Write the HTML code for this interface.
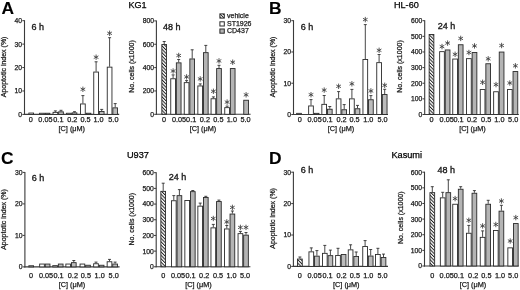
<!DOCTYPE html>
<html><head><meta charset="utf-8"><style>
html,body{margin:0;padding:0;background:#fff;}
body{width:520px;height:290px;overflow:hidden;}
svg{display:block;font-family:"Liberation Sans", sans-serif;will-change:transform;}
</style></head><body>
<svg width="520" height="290" viewBox="0 0 520 290">
<defs>
<pattern id="hatch" patternUnits="userSpaceOnUse" width="2.4" height="2.4" patternTransform="rotate(-45)">
<rect width="2.4" height="2.4" fill="#fff"/><rect x="0" y="0" width="1.0" height="2.4" fill="#222"/>
</pattern>
<pattern id="hatch2" patternUnits="userSpaceOnUse" width="2.2" height="2.2" patternTransform="rotate(-45)">
<rect width="2.2" height="2.2" fill="#fff"/><rect x="0" y="0" width="0.9" height="2.2" fill="#222"/>
</pattern>
</defs>
<rect width="520" height="290" fill="#fff"/>
<line x1="24.5" y1="20.2" x2="24.5" y2="114.9" stroke="#3a3a3a" stroke-width="1.1"/>
<line x1="24" y1="114.4" x2="119.2" y2="114.4" stroke="#3a3a3a" stroke-width="1.1"/>
<line x1="22.3" y1="114.4" x2="24.5" y2="114.4" stroke="#3a3a3a" stroke-width="1"/>
<text x="22.1" y="116.8" font-size="6.8" text-anchor="end" font-weight="normal" fill="#1a1a1a" stroke="#1a1a1a" stroke-width="0.25">0</text>
<line x1="22.3" y1="90.98" x2="24.5" y2="90.98" stroke="#3a3a3a" stroke-width="1"/>
<text x="22.1" y="93.38" font-size="6.8" text-anchor="end" font-weight="normal" fill="#1a1a1a" stroke="#1a1a1a" stroke-width="0.25">10</text>
<line x1="22.3" y1="67.55" x2="24.5" y2="67.55" stroke="#3a3a3a" stroke-width="1"/>
<text x="22.1" y="69.95" font-size="6.8" text-anchor="end" font-weight="normal" fill="#1a1a1a" stroke="#1a1a1a" stroke-width="0.25">20</text>
<line x1="22.3" y1="44.12" x2="24.5" y2="44.12" stroke="#3a3a3a" stroke-width="1"/>
<text x="22.1" y="46.52" font-size="6.8" text-anchor="end" font-weight="normal" fill="#1a1a1a" stroke="#1a1a1a" stroke-width="0.25">30</text>
<line x1="22.3" y1="20.7" x2="24.5" y2="20.7" stroke="#3a3a3a" stroke-width="1"/>
<text x="22.1" y="23.1" font-size="6.8" text-anchor="end" font-weight="normal" fill="#1a1a1a" stroke="#1a1a1a" stroke-width="0.25">40</text>
<rect x="28.85" y="113.05" width="4.7" height="1.35" fill="#fff" stroke="#2a2a2a" stroke-width="0.9"/>
<rect x="39.55" y="113.25" width="4.7" height="1.15" fill="#fff" stroke="#2a2a2a" stroke-width="0.9"/>
<rect x="45.15" y="113.25" width="4.7" height="1.15" fill="#bcbcbc" stroke="#2a2a2a" stroke-width="0.9"/>
<rect x="53.05" y="112.35" width="4.7" height="2.05" fill="#fff" stroke="#2a2a2a" stroke-width="0.9"/>
<line x1="55.4" y1="111.9" x2="55.4" y2="110.8" stroke="#333" stroke-width="0.9"/>
<line x1="53.9" y1="110.9" x2="56.9" y2="110.9" stroke="#333" stroke-width="0.9"/>
<rect x="58.65" y="111.85" width="4.7" height="2.55" fill="#bcbcbc" stroke="#2a2a2a" stroke-width="0.9"/>
<line x1="61" y1="111.4" x2="61" y2="110.2" stroke="#333" stroke-width="0.9"/>
<line x1="59.5" y1="110.3" x2="62.5" y2="110.3" stroke="#333" stroke-width="0.9"/>
<rect x="66.55" y="113.25" width="4.7" height="1.15" fill="#fff" stroke="#2a2a2a" stroke-width="0.9"/>
<rect x="72.15" y="112.85" width="4.7" height="1.55" fill="#bcbcbc" stroke="#2a2a2a" stroke-width="0.9"/>
<line x1="74.5" y1="112.4" x2="74.5" y2="111.6" stroke="#333" stroke-width="0.9"/>
<line x1="73" y1="111.7" x2="76" y2="111.7" stroke="#333" stroke-width="0.9"/>
<rect x="80.55" y="103.95" width="4.7" height="10.45" fill="#fff" stroke="#2a2a2a" stroke-width="0.9"/>
<line x1="82.9" y1="103.5" x2="82.9" y2="95.5" stroke="#333" stroke-width="0.9"/>
<line x1="81.4" y1="95.6" x2="84.4" y2="95.6" stroke="#333" stroke-width="0.9"/>
<rect x="86.15" y="113.25" width="4.7" height="1.15" fill="#bcbcbc" stroke="#2a2a2a" stroke-width="0.9"/>
<path d="M82.9 86.6L82.9 92M85.24 87.95L80.56 90.65M85.24 90.65L80.56 87.95" stroke="#3c3c3c" stroke-width="0.85" fill="none"/>
<rect x="93.75" y="72.05" width="4.7" height="42.35" fill="#fff" stroke="#2a2a2a" stroke-width="0.9"/>
<line x1="96.1" y1="71.6" x2="96.1" y2="61.7" stroke="#333" stroke-width="0.9"/>
<line x1="94.6" y1="61.8" x2="97.6" y2="61.8" stroke="#333" stroke-width="0.9"/>
<rect x="99.35" y="111.45" width="4.7" height="2.95" fill="#bcbcbc" stroke="#2a2a2a" stroke-width="0.9"/>
<line x1="101.7" y1="111" x2="101.7" y2="109.3" stroke="#333" stroke-width="0.9"/>
<line x1="100.2" y1="109.4" x2="103.2" y2="109.4" stroke="#333" stroke-width="0.9"/>
<path d="M96.1 54.5L96.1 59.9M98.44 55.85L93.76 58.55M98.44 58.55L93.76 55.85" stroke="#3c3c3c" stroke-width="0.85" fill="none"/>
<rect x="107.25" y="67.15" width="4.7" height="47.25" fill="#fff" stroke="#2a2a2a" stroke-width="0.9"/>
<line x1="109.6" y1="66.7" x2="109.6" y2="37.6" stroke="#333" stroke-width="0.9"/>
<line x1="108.1" y1="37.7" x2="111.1" y2="37.7" stroke="#333" stroke-width="0.9"/>
<rect x="112.85" y="107.85" width="4.7" height="6.55" fill="#bcbcbc" stroke="#2a2a2a" stroke-width="0.9"/>
<line x1="115.2" y1="107.4" x2="115.2" y2="103.5" stroke="#333" stroke-width="0.9"/>
<line x1="113.7" y1="103.6" x2="116.7" y2="103.6" stroke="#333" stroke-width="0.9"/>
<path d="M109.6 30.6L109.6 36M111.94 31.95L107.26 34.65M111.94 34.65L107.26 31.95" stroke="#3c3c3c" stroke-width="0.85" fill="none"/>
<text x="30.8" y="122" font-size="7.3" text-anchor="middle" font-weight="normal" fill="#1a1a1a" stroke="#1a1a1a" stroke-width="0.25">0</text>
<text x="45.45" y="122" font-size="7.3" text-anchor="middle" font-weight="normal" fill="#1a1a1a" stroke="#1a1a1a" stroke-width="0.25">0.05</text>
<text x="58.4" y="122" font-size="7.3" text-anchor="middle" font-weight="normal" fill="#1a1a1a" stroke="#1a1a1a" stroke-width="0.25">0.1</text>
<text x="72.3" y="122" font-size="7.3" text-anchor="middle" font-weight="normal" fill="#1a1a1a" stroke="#1a1a1a" stroke-width="0.25">0.2</text>
<text x="85.6" y="122" font-size="7.3" text-anchor="middle" font-weight="normal" fill="#1a1a1a" stroke="#1a1a1a" stroke-width="0.25">0.5</text>
<text x="98.6" y="122" font-size="7.3" text-anchor="middle" font-weight="normal" fill="#1a1a1a" stroke="#1a1a1a" stroke-width="0.25">1.0</text>
<text x="113.4" y="122" font-size="7.3" text-anchor="middle" font-weight="normal" fill="#1a1a1a" stroke="#1a1a1a" stroke-width="0.25">5.0</text>
<text x="71.8" y="131" font-size="7.3" text-anchor="middle" font-weight="normal" fill="#1a1a1a" stroke="#1a1a1a" stroke-width="0.25">[C] (&#956;M)</text>
<text x="0" y="0" font-size="7" text-anchor="middle" fill="#1a1a1a" stroke="#1a1a1a" stroke-width="0.25" transform="translate(5.9 66.9) rotate(-90)">Apoptotic index (%)</text>
<text x="31.4" y="29.5" font-size="9" text-anchor="start" font-weight="normal" fill="#1a1a1a" stroke="#1a1a1a" stroke-width="0.35">6 h</text>
<line x1="156.4" y1="20.4" x2="156.4" y2="114.8" stroke="#3a3a3a" stroke-width="1.1"/>
<line x1="155.9" y1="114.3" x2="250.6" y2="114.3" stroke="#3a3a3a" stroke-width="1.1"/>
<line x1="154.2" y1="114.3" x2="156.4" y2="114.3" stroke="#3a3a3a" stroke-width="1"/>
<text x="154" y="116.7" font-size="6.8" text-anchor="end" font-weight="normal" fill="#1a1a1a" stroke="#1a1a1a" stroke-width="0.25">0</text>
<line x1="154.2" y1="90.95" x2="156.4" y2="90.95" stroke="#3a3a3a" stroke-width="1"/>
<text x="154" y="93.35" font-size="6.8" text-anchor="end" font-weight="normal" fill="#1a1a1a" stroke="#1a1a1a" stroke-width="0.25">200</text>
<line x1="154.2" y1="67.6" x2="156.4" y2="67.6" stroke="#3a3a3a" stroke-width="1"/>
<text x="154" y="70" font-size="6.8" text-anchor="end" font-weight="normal" fill="#1a1a1a" stroke="#1a1a1a" stroke-width="0.25">400</text>
<line x1="154.2" y1="44.25" x2="156.4" y2="44.25" stroke="#3a3a3a" stroke-width="1"/>
<text x="154" y="46.65" font-size="6.8" text-anchor="end" font-weight="normal" fill="#1a1a1a" stroke="#1a1a1a" stroke-width="0.25">600</text>
<line x1="154.2" y1="20.9" x2="156.4" y2="20.9" stroke="#3a3a3a" stroke-width="1"/>
<text x="154" y="23.3" font-size="6.8" text-anchor="end" font-weight="normal" fill="#1a1a1a" stroke="#1a1a1a" stroke-width="0.25">800</text>
<rect x="161.85" y="44.55" width="4.7" height="69.75" fill="url(#hatch)" stroke="#2a2a2a" stroke-width="0.9"/>
<line x1="164.2" y1="44.1" x2="164.2" y2="41.4" stroke="#333" stroke-width="0.9"/>
<line x1="162.7" y1="41.5" x2="165.7" y2="41.5" stroke="#333" stroke-width="0.9"/>
<rect x="170.75" y="78.75" width="4.7" height="35.55" fill="#fff" stroke="#2a2a2a" stroke-width="0.9"/>
<line x1="173.1" y1="78.3" x2="173.1" y2="74.8" stroke="#333" stroke-width="0.9"/>
<line x1="171.6" y1="74.9" x2="174.6" y2="74.9" stroke="#333" stroke-width="0.9"/>
<rect x="176.35" y="62.85" width="4.7" height="51.45" fill="#b4b4b4" stroke="#2a2a2a" stroke-width="0.9"/>
<line x1="178.7" y1="62.4" x2="178.7" y2="59.4" stroke="#333" stroke-width="0.9"/>
<line x1="177.2" y1="59.5" x2="180.2" y2="59.5" stroke="#333" stroke-width="0.9"/>
<path d="M173.1 68.3L173.1 73.7M175.44 69.65L170.76 72.35M175.44 72.35L170.76 69.65" stroke="#3c3c3c" stroke-width="0.85" fill="none"/>
<path d="M178.7 52.8L178.7 58.2M181.04 54.15L176.36 56.85M181.04 56.85L176.36 54.15" stroke="#3c3c3c" stroke-width="0.85" fill="none"/>
<rect x="184.25" y="82.65" width="4.7" height="31.65" fill="#fff" stroke="#2a2a2a" stroke-width="0.9"/>
<line x1="186.6" y1="82.2" x2="186.6" y2="80.5" stroke="#333" stroke-width="0.9"/>
<line x1="185.1" y1="80.6" x2="188.1" y2="80.6" stroke="#333" stroke-width="0.9"/>
<rect x="189.85" y="58.95" width="4.7" height="55.35" fill="#b4b4b4" stroke="#2a2a2a" stroke-width="0.9"/>
<line x1="192.2" y1="58.5" x2="192.2" y2="49.7" stroke="#333" stroke-width="0.9"/>
<line x1="190.7" y1="49.8" x2="193.7" y2="49.8" stroke="#333" stroke-width="0.9"/>
<path d="M186.6 74.2L186.6 79.6M188.94 75.55L184.26 78.25M188.94 78.25L184.26 75.55" stroke="#3c3c3c" stroke-width="0.85" fill="none"/>
<rect x="197.85" y="85.95" width="4.7" height="28.35" fill="#fff" stroke="#2a2a2a" stroke-width="0.9"/>
<line x1="200.2" y1="85.5" x2="200.2" y2="83.8" stroke="#333" stroke-width="0.9"/>
<line x1="198.7" y1="83.9" x2="201.7" y2="83.9" stroke="#333" stroke-width="0.9"/>
<rect x="203.45" y="52.65" width="4.7" height="61.65" fill="#b4b4b4" stroke="#2a2a2a" stroke-width="0.9"/>
<line x1="205.8" y1="52.2" x2="205.8" y2="45.3" stroke="#333" stroke-width="0.9"/>
<line x1="204.3" y1="45.4" x2="207.3" y2="45.4" stroke="#333" stroke-width="0.9"/>
<path d="M200.2 76.2L200.2 81.6M202.54 77.55L197.86 80.25M202.54 80.25L197.86 77.55" stroke="#3c3c3c" stroke-width="0.85" fill="none"/>
<rect x="211.05" y="98.75" width="4.7" height="15.55" fill="#fff" stroke="#2a2a2a" stroke-width="0.9"/>
<line x1="213.4" y1="98.3" x2="213.4" y2="96.8" stroke="#333" stroke-width="0.9"/>
<line x1="211.9" y1="96.9" x2="214.9" y2="96.9" stroke="#333" stroke-width="0.9"/>
<rect x="216.65" y="68.55" width="4.7" height="45.75" fill="#b4b4b4" stroke="#2a2a2a" stroke-width="0.9"/>
<line x1="219" y1="68.1" x2="219" y2="65.2" stroke="#333" stroke-width="0.9"/>
<line x1="217.5" y1="65.3" x2="220.5" y2="65.3" stroke="#333" stroke-width="0.9"/>
<path d="M213.4 88.6L213.4 94M215.74 89.95L211.06 92.65M215.74 92.65L211.06 89.95" stroke="#3c3c3c" stroke-width="0.85" fill="none"/>
<path d="M219 58.2L219 63.6M221.34 59.55L216.66 62.25M221.34 62.25L216.66 59.55" stroke="#3c3c3c" stroke-width="0.85" fill="none"/>
<rect x="224.75" y="107.65" width="4.7" height="6.65" fill="#fff" stroke="#2a2a2a" stroke-width="0.9"/>
<line x1="227.1" y1="107.2" x2="227.1" y2="106" stroke="#333" stroke-width="0.9"/>
<line x1="225.6" y1="106.1" x2="228.6" y2="106.1" stroke="#333" stroke-width="0.9"/>
<rect x="230.35" y="68.55" width="4.7" height="45.75" fill="#b4b4b4" stroke="#2a2a2a" stroke-width="0.9"/>
<path d="M227.1 99.4L227.1 104.8M229.44 100.75L224.76 103.45M229.44 103.45L224.76 100.75" stroke="#3c3c3c" stroke-width="0.85" fill="none"/>
<path d="M232.7 59.5L232.7 64.9M235.04 60.85L230.36 63.55M235.04 63.55L230.36 60.85" stroke="#3c3c3c" stroke-width="0.85" fill="none"/>
<rect x="243.75" y="100.25" width="4.7" height="14.05" fill="#b4b4b4" stroke="#2a2a2a" stroke-width="0.9"/>
<path d="M246.1 92.1L246.1 97.5M248.44 93.45L243.76 96.15M248.44 96.15L243.76 93.45" stroke="#3c3c3c" stroke-width="0.85" fill="none"/>
<text x="164" y="122" font-size="7.3" text-anchor="middle" font-weight="normal" fill="#1a1a1a" stroke="#1a1a1a" stroke-width="0.25">0</text>
<text x="179" y="122" font-size="7.3" text-anchor="middle" font-weight="normal" fill="#1a1a1a" stroke="#1a1a1a" stroke-width="0.25">0.05</text>
<text x="191.2" y="122" font-size="7.3" text-anchor="middle" font-weight="normal" fill="#1a1a1a" stroke="#1a1a1a" stroke-width="0.25">0.1</text>
<text x="204.9" y="122" font-size="7.3" text-anchor="middle" font-weight="normal" fill="#1a1a1a" stroke="#1a1a1a" stroke-width="0.25">0.2</text>
<text x="218.4" y="122" font-size="7.3" text-anchor="middle" font-weight="normal" fill="#1a1a1a" stroke="#1a1a1a" stroke-width="0.25">0.5</text>
<text x="231.9" y="122" font-size="7.3" text-anchor="middle" font-weight="normal" fill="#1a1a1a" stroke="#1a1a1a" stroke-width="0.25">1.0</text>
<text x="245.6" y="122" font-size="7.3" text-anchor="middle" font-weight="normal" fill="#1a1a1a" stroke="#1a1a1a" stroke-width="0.25">5.0</text>
<text x="203" y="131" font-size="7.3" text-anchor="middle" font-weight="normal" fill="#1a1a1a" stroke="#1a1a1a" stroke-width="0.25">[C] (&#956;M)</text>
<text x="0" y="0" font-size="7" text-anchor="middle" fill="#1a1a1a" stroke="#1a1a1a" stroke-width="0.25" transform="translate(133.7 66.5) rotate(-90)">No. cells (x1000)</text>
<text x="163.1" y="29.5" font-size="9" text-anchor="start" font-weight="normal" fill="#1a1a1a" stroke="#1a1a1a" stroke-width="0.35">48 h</text>
<line x1="293.5" y1="20.2" x2="293.5" y2="115" stroke="#3a3a3a" stroke-width="1.1"/>
<line x1="293" y1="114.5" x2="388" y2="114.5" stroke="#3a3a3a" stroke-width="1.1"/>
<line x1="291.3" y1="114.5" x2="293.5" y2="114.5" stroke="#3a3a3a" stroke-width="1"/>
<text x="291.1" y="116.9" font-size="6.8" text-anchor="end" font-weight="normal" fill="#1a1a1a" stroke="#1a1a1a" stroke-width="0.25">0</text>
<line x1="291.3" y1="83.23" x2="293.5" y2="83.23" stroke="#3a3a3a" stroke-width="1"/>
<text x="291.1" y="85.63" font-size="6.8" text-anchor="end" font-weight="normal" fill="#1a1a1a" stroke="#1a1a1a" stroke-width="0.25">10</text>
<line x1="291.3" y1="51.97" x2="293.5" y2="51.97" stroke="#3a3a3a" stroke-width="1"/>
<text x="291.1" y="54.37" font-size="6.8" text-anchor="end" font-weight="normal" fill="#1a1a1a" stroke="#1a1a1a" stroke-width="0.25">20</text>
<line x1="291.3" y1="20.7" x2="293.5" y2="20.7" stroke="#3a3a3a" stroke-width="1"/>
<text x="291.1" y="23.1" font-size="6.8" text-anchor="end" font-weight="normal" fill="#1a1a1a" stroke="#1a1a1a" stroke-width="0.25">30</text>
<rect x="296.65" y="113.35" width="4.7" height="1.15" fill="#fff" stroke="#2a2a2a" stroke-width="0.9"/>
<rect x="308.65" y="105.95" width="4.7" height="8.55" fill="#fff" stroke="#2a2a2a" stroke-width="0.9"/>
<line x1="311" y1="105.5" x2="311" y2="99.5" stroke="#333" stroke-width="0.9"/>
<line x1="309.5" y1="99.6" x2="312.5" y2="99.6" stroke="#333" stroke-width="0.9"/>
<rect x="314.25" y="113.35" width="4.7" height="1.15" fill="#bcbcbc" stroke="#2a2a2a" stroke-width="0.9"/>
<path d="M311 92L311 97.4M313.34 93.35L308.66 96.05M313.34 96.05L308.66 93.35" stroke="#3c3c3c" stroke-width="0.85" fill="none"/>
<rect x="321.85" y="104.35" width="4.7" height="10.15" fill="#fff" stroke="#2a2a2a" stroke-width="0.9"/>
<line x1="324.2" y1="103.9" x2="324.2" y2="95.4" stroke="#333" stroke-width="0.9"/>
<line x1="322.7" y1="95.5" x2="325.7" y2="95.5" stroke="#333" stroke-width="0.9"/>
<rect x="327.45" y="109.25" width="4.7" height="5.25" fill="#bcbcbc" stroke="#2a2a2a" stroke-width="0.9"/>
<line x1="329.8" y1="108.8" x2="329.8" y2="106.4" stroke="#333" stroke-width="0.9"/>
<line x1="328.3" y1="106.5" x2="331.3" y2="106.5" stroke="#333" stroke-width="0.9"/>
<path d="M324.2 87.4L324.2 92.8M326.54 88.75L321.86 91.45M326.54 91.45L321.86 88.75" stroke="#3c3c3c" stroke-width="0.85" fill="none"/>
<rect x="336.25" y="98.85" width="4.7" height="15.65" fill="#fff" stroke="#2a2a2a" stroke-width="0.9"/>
<line x1="338.6" y1="98.4" x2="338.6" y2="91.5" stroke="#333" stroke-width="0.9"/>
<line x1="337.1" y1="91.6" x2="340.1" y2="91.6" stroke="#333" stroke-width="0.9"/>
<rect x="341.85" y="109.75" width="4.7" height="4.75" fill="#bcbcbc" stroke="#2a2a2a" stroke-width="0.9"/>
<line x1="344.2" y1="109.3" x2="344.2" y2="104.5" stroke="#333" stroke-width="0.9"/>
<line x1="342.7" y1="104.6" x2="345.7" y2="104.6" stroke="#333" stroke-width="0.9"/>
<path d="M338.6 83.6L338.6 89M340.94 84.95L336.26 87.65M340.94 87.65L336.26 84.95" stroke="#3c3c3c" stroke-width="0.85" fill="none"/>
<rect x="349.55" y="98.85" width="4.7" height="15.65" fill="#fff" stroke="#2a2a2a" stroke-width="0.9"/>
<line x1="351.9" y1="98.4" x2="351.9" y2="89.3" stroke="#333" stroke-width="0.9"/>
<line x1="350.4" y1="89.4" x2="353.4" y2="89.4" stroke="#333" stroke-width="0.9"/>
<rect x="355.15" y="108.75" width="4.7" height="5.75" fill="#bcbcbc" stroke="#2a2a2a" stroke-width="0.9"/>
<line x1="357.5" y1="108.3" x2="357.5" y2="105.3" stroke="#333" stroke-width="0.9"/>
<line x1="356" y1="105.4" x2="359" y2="105.4" stroke="#333" stroke-width="0.9"/>
<path d="M351.9 81.1L351.9 86.5M354.24 82.45L349.56 85.15M354.24 85.15L349.56 82.45" stroke="#3c3c3c" stroke-width="0.85" fill="none"/>
<rect x="362.95" y="59.45" width="4.7" height="55.05" fill="#fff" stroke="#2a2a2a" stroke-width="0.9"/>
<line x1="365.3" y1="59" x2="365.3" y2="24.5" stroke="#333" stroke-width="0.9"/>
<line x1="363.8" y1="24.6" x2="366.8" y2="24.6" stroke="#333" stroke-width="0.9"/>
<rect x="368.55" y="99.75" width="4.7" height="14.75" fill="#bcbcbc" stroke="#2a2a2a" stroke-width="0.9"/>
<line x1="370.9" y1="99.3" x2="370.9" y2="95.5" stroke="#333" stroke-width="0.9"/>
<line x1="369.4" y1="95.6" x2="372.4" y2="95.6" stroke="#333" stroke-width="0.9"/>
<path d="M365.3 16.9L365.3 22.3M367.64 18.25L362.96 20.95M367.64 20.95L362.96 18.25" stroke="#3c3c3c" stroke-width="0.85" fill="none"/>
<path d="M370.9 88.2L370.9 93.6M373.24 89.55L368.56 92.25M373.24 92.25L368.56 89.55" stroke="#3c3c3c" stroke-width="0.85" fill="none"/>
<rect x="376.75" y="62.65" width="4.7" height="51.85" fill="#fff" stroke="#2a2a2a" stroke-width="0.9"/>
<line x1="379.1" y1="62.2" x2="379.1" y2="54.4" stroke="#333" stroke-width="0.9"/>
<line x1="377.6" y1="54.5" x2="380.6" y2="54.5" stroke="#333" stroke-width="0.9"/>
<rect x="382.35" y="94.55" width="4.7" height="19.95" fill="#bcbcbc" stroke="#2a2a2a" stroke-width="0.9"/>
<line x1="384.7" y1="94.1" x2="384.7" y2="89.2" stroke="#333" stroke-width="0.9"/>
<line x1="383.2" y1="89.3" x2="386.2" y2="89.3" stroke="#333" stroke-width="0.9"/>
<path d="M379.1 47.6L379.1 53M381.44 48.95L376.76 51.65M381.44 51.65L376.76 48.95" stroke="#3c3c3c" stroke-width="0.85" fill="none"/>
<path d="M384.7 82.6L384.7 88M387.04 83.95L382.36 86.65M387.04 86.65L382.36 83.95" stroke="#3c3c3c" stroke-width="0.85" fill="none"/>
<text x="299.8" y="121.8" font-size="7.3" text-anchor="middle" font-weight="normal" fill="#1a1a1a" stroke="#1a1a1a" stroke-width="0.25">0</text>
<text x="314.6" y="121.8" font-size="7.3" text-anchor="middle" font-weight="normal" fill="#1a1a1a" stroke="#1a1a1a" stroke-width="0.25">0.05</text>
<text x="327.5" y="121.8" font-size="7.3" text-anchor="middle" font-weight="normal" fill="#1a1a1a" stroke="#1a1a1a" stroke-width="0.25">0.1</text>
<text x="341.6" y="121.8" font-size="7.3" text-anchor="middle" font-weight="normal" fill="#1a1a1a" stroke="#1a1a1a" stroke-width="0.25">0.2</text>
<text x="354.5" y="121.8" font-size="7.3" text-anchor="middle" font-weight="normal" fill="#1a1a1a" stroke="#1a1a1a" stroke-width="0.25">0.5</text>
<text x="368.3" y="121.8" font-size="7.3" text-anchor="middle" font-weight="normal" fill="#1a1a1a" stroke="#1a1a1a" stroke-width="0.25">1.0</text>
<text x="382.6" y="121.8" font-size="7.3" text-anchor="middle" font-weight="normal" fill="#1a1a1a" stroke="#1a1a1a" stroke-width="0.25">5.0</text>
<text x="341" y="131" font-size="7.3" text-anchor="middle" font-weight="normal" fill="#1a1a1a" stroke="#1a1a1a" stroke-width="0.25">[C] (&#956;M)</text>
<text x="0" y="0" font-size="7" text-anchor="middle" fill="#1a1a1a" stroke="#1a1a1a" stroke-width="0.25" transform="translate(274.7 66.9) rotate(-90)">Apoptotic index (%)</text>
<text x="300.7" y="29.5" font-size="9" text-anchor="start" font-weight="normal" fill="#1a1a1a" stroke="#1a1a1a" stroke-width="0.35">6 h</text>
<line x1="424.7" y1="20.2" x2="424.7" y2="115" stroke="#3a3a3a" stroke-width="1.1"/>
<line x1="424.2" y1="114.5" x2="518.8" y2="114.5" stroke="#3a3a3a" stroke-width="1.1"/>
<line x1="422.5" y1="114.5" x2="424.7" y2="114.5" stroke="#3a3a3a" stroke-width="1"/>
<text x="422.3" y="116.9" font-size="6.8" text-anchor="end" font-weight="normal" fill="#1a1a1a" stroke="#1a1a1a" stroke-width="0.25">0</text>
<line x1="422.5" y1="98.87" x2="424.7" y2="98.87" stroke="#3a3a3a" stroke-width="1"/>
<text x="422.3" y="101.27" font-size="6.8" text-anchor="end" font-weight="normal" fill="#1a1a1a" stroke="#1a1a1a" stroke-width="0.25">100</text>
<line x1="422.5" y1="83.23" x2="424.7" y2="83.23" stroke="#3a3a3a" stroke-width="1"/>
<text x="422.3" y="85.63" font-size="6.8" text-anchor="end" font-weight="normal" fill="#1a1a1a" stroke="#1a1a1a" stroke-width="0.25">200</text>
<line x1="422.5" y1="67.6" x2="424.7" y2="67.6" stroke="#3a3a3a" stroke-width="1"/>
<text x="422.3" y="70" font-size="6.8" text-anchor="end" font-weight="normal" fill="#1a1a1a" stroke="#1a1a1a" stroke-width="0.25">300</text>
<line x1="422.5" y1="51.97" x2="424.7" y2="51.97" stroke="#3a3a3a" stroke-width="1"/>
<text x="422.3" y="54.37" font-size="6.8" text-anchor="end" font-weight="normal" fill="#1a1a1a" stroke="#1a1a1a" stroke-width="0.25">400</text>
<line x1="422.5" y1="36.33" x2="424.7" y2="36.33" stroke="#3a3a3a" stroke-width="1"/>
<text x="422.3" y="38.73" font-size="6.8" text-anchor="end" font-weight="normal" fill="#1a1a1a" stroke="#1a1a1a" stroke-width="0.25">500</text>
<line x1="422.5" y1="20.7" x2="424.7" y2="20.7" stroke="#3a3a3a" stroke-width="1"/>
<text x="422.3" y="23.1" font-size="6.8" text-anchor="end" font-weight="normal" fill="#1a1a1a" stroke="#1a1a1a" stroke-width="0.25">600</text>
<rect x="429.15" y="34.45" width="4.7" height="80.05" fill="url(#hatch)" stroke="#2a2a2a" stroke-width="0.9"/>
<rect x="439.65" y="51.65" width="4.7" height="62.85" fill="#fff" stroke="#2a2a2a" stroke-width="0.9"/>
<rect x="445.25" y="49.95" width="4.7" height="64.55" fill="#b4b4b4" stroke="#2a2a2a" stroke-width="0.9"/>
<path d="M442 43.9L442 49.3M444.34 45.25L439.66 47.95M444.34 47.95L439.66 45.25" stroke="#3c3c3c" stroke-width="0.85" fill="none"/>
<path d="M447.6 40.4L447.6 45.8M449.94 41.75L445.26 44.45M449.94 44.45L445.26 41.75" stroke="#3c3c3c" stroke-width="0.85" fill="none"/>
<rect x="452.75" y="59.05" width="4.7" height="55.45" fill="#fff" stroke="#2a2a2a" stroke-width="0.9"/>
<rect x="458.35" y="44.75" width="4.7" height="69.75" fill="#b4b4b4" stroke="#2a2a2a" stroke-width="0.9"/>
<path d="M455.1 51.6L455.1 57M457.44 52.95L452.76 55.65M457.44 55.65L452.76 52.95" stroke="#3c3c3c" stroke-width="0.85" fill="none"/>
<path d="M460.7 35.7L460.7 41.1M463.04 37.05L458.36 39.75M463.04 39.75L458.36 37.05" stroke="#3c3c3c" stroke-width="0.85" fill="none"/>
<rect x="466.55" y="58.65" width="4.7" height="55.85" fill="#fff" stroke="#2a2a2a" stroke-width="0.9"/>
<rect x="472.15" y="52.45" width="4.7" height="62.05" fill="#b4b4b4" stroke="#2a2a2a" stroke-width="0.9"/>
<path d="M468.9 49.8L468.9 55.2M471.24 51.15L466.56 53.85M471.24 53.85L466.56 51.15" stroke="#3c3c3c" stroke-width="0.85" fill="none"/>
<path d="M474.5 43.2L474.5 48.6M476.84 44.55L472.16 47.25M476.84 47.25L472.16 44.55" stroke="#3c3c3c" stroke-width="0.85" fill="none"/>
<rect x="480.25" y="89.55" width="4.7" height="24.95" fill="#fff" stroke="#2a2a2a" stroke-width="0.9"/>
<rect x="485.85" y="63.75" width="4.7" height="50.75" fill="#b4b4b4" stroke="#2a2a2a" stroke-width="0.9"/>
<path d="M482.6 79.6L482.6 85M484.94 80.95L480.26 83.65M484.94 83.65L480.26 80.95" stroke="#3c3c3c" stroke-width="0.85" fill="none"/>
<path d="M488.2 56.1L488.2 61.5M490.54 57.45L485.86 60.15M490.54 60.15L485.86 57.45" stroke="#3c3c3c" stroke-width="0.85" fill="none"/>
<rect x="493.65" y="91.75" width="4.7" height="22.75" fill="#fff" stroke="#2a2a2a" stroke-width="0.9"/>
<rect x="499.25" y="52.05" width="4.7" height="62.45" fill="#b4b4b4" stroke="#2a2a2a" stroke-width="0.9"/>
<path d="M496 81.9L496 87.3M498.34 83.25L493.66 85.95M498.34 85.95L493.66 83.25" stroke="#3c3c3c" stroke-width="0.85" fill="none"/>
<path d="M501.6 42.8L501.6 48.2M503.94 44.15L499.26 46.85M503.94 46.85L499.26 44.15" stroke="#3c3c3c" stroke-width="0.85" fill="none"/>
<rect x="507.45" y="89.55" width="4.7" height="24.95" fill="#fff" stroke="#2a2a2a" stroke-width="0.9"/>
<rect x="513.05" y="71.55" width="4.7" height="42.95" fill="#b4b4b4" stroke="#2a2a2a" stroke-width="0.9"/>
<path d="M509.8 80.3L509.8 85.7M512.14 81.65L507.46 84.35M512.14 84.35L507.46 81.65" stroke="#3c3c3c" stroke-width="0.85" fill="none"/>
<path d="M515.4 63.1L515.4 68.5M517.74 64.45L513.06 67.15M517.74 67.15L513.06 64.45" stroke="#3c3c3c" stroke-width="0.85" fill="none"/>
<text x="431.6" y="121.6" font-size="7.3" text-anchor="middle" font-weight="normal" fill="#1a1a1a" stroke="#1a1a1a" stroke-width="0.25">0</text>
<text x="446.7" y="121.6" font-size="7.3" text-anchor="middle" font-weight="normal" fill="#1a1a1a" stroke="#1a1a1a" stroke-width="0.25">0.05</text>
<text x="458.6" y="121.6" font-size="7.3" text-anchor="middle" font-weight="normal" fill="#1a1a1a" stroke="#1a1a1a" stroke-width="0.25">0.1</text>
<text x="472.1" y="121.6" font-size="7.3" text-anchor="middle" font-weight="normal" fill="#1a1a1a" stroke="#1a1a1a" stroke-width="0.25">0.2</text>
<text x="486.2" y="121.6" font-size="7.3" text-anchor="middle" font-weight="normal" fill="#1a1a1a" stroke="#1a1a1a" stroke-width="0.25">0.5</text>
<text x="499.4" y="121.6" font-size="7.3" text-anchor="middle" font-weight="normal" fill="#1a1a1a" stroke="#1a1a1a" stroke-width="0.25">1.0</text>
<text x="513.2" y="121.6" font-size="7.3" text-anchor="middle" font-weight="normal" fill="#1a1a1a" stroke="#1a1a1a" stroke-width="0.25">5.0</text>
<text x="472.4" y="131" font-size="7.3" text-anchor="middle" font-weight="normal" fill="#1a1a1a" stroke="#1a1a1a" stroke-width="0.25">[C] (&#956;M)</text>
<text x="0" y="0" font-size="7" text-anchor="middle" fill="#1a1a1a" stroke="#1a1a1a" stroke-width="0.25" transform="translate(402 66.5) rotate(-90)">No. cells (x1000)</text>
<text x="437.8" y="29.2" font-size="9" text-anchor="start" font-weight="normal" fill="#1a1a1a" stroke="#1a1a1a" stroke-width="0.35">24 h</text>
<line x1="24.9" y1="171.9" x2="24.9" y2="267.4" stroke="#3a3a3a" stroke-width="1.1"/>
<line x1="24.4" y1="266.9" x2="119.6" y2="266.9" stroke="#3a3a3a" stroke-width="1.1"/>
<line x1="22.7" y1="266.9" x2="24.9" y2="266.9" stroke="#3a3a3a" stroke-width="1"/>
<text x="22.5" y="269.3" font-size="6.8" text-anchor="end" font-weight="normal" fill="#1a1a1a" stroke="#1a1a1a" stroke-width="0.25">0</text>
<line x1="22.7" y1="235.4" x2="24.9" y2="235.4" stroke="#3a3a3a" stroke-width="1"/>
<text x="22.5" y="237.8" font-size="6.8" text-anchor="end" font-weight="normal" fill="#1a1a1a" stroke="#1a1a1a" stroke-width="0.25">10</text>
<line x1="22.7" y1="203.9" x2="24.9" y2="203.9" stroke="#3a3a3a" stroke-width="1"/>
<text x="22.5" y="206.3" font-size="6.8" text-anchor="end" font-weight="normal" fill="#1a1a1a" stroke="#1a1a1a" stroke-width="0.25">20</text>
<line x1="22.7" y1="172.4" x2="24.9" y2="172.4" stroke="#3a3a3a" stroke-width="1"/>
<text x="22.5" y="174.8" font-size="6.8" text-anchor="end" font-weight="normal" fill="#1a1a1a" stroke="#1a1a1a" stroke-width="0.25">30</text>
<rect x="28.85" y="265.75" width="4.7" height="1.15" fill="#fff" stroke="#2a2a2a" stroke-width="0.9"/>
<rect x="39.65" y="264.05" width="4.7" height="2.85" fill="#fff" stroke="#2a2a2a" stroke-width="0.9"/>
<rect x="45.25" y="264.05" width="4.7" height="2.85" fill="#bcbcbc" stroke="#2a2a2a" stroke-width="0.9"/>
<rect x="52.75" y="265.65" width="4.7" height="1.25" fill="#fff" stroke="#2a2a2a" stroke-width="0.9"/>
<rect x="58.35" y="264.05" width="4.7" height="2.85" fill="#bcbcbc" stroke="#2a2a2a" stroke-width="0.9"/>
<rect x="65.85" y="264.05" width="4.7" height="2.85" fill="#fff" stroke="#2a2a2a" stroke-width="0.9"/>
<rect x="71.45" y="262.65" width="4.7" height="4.25" fill="#bcbcbc" stroke="#2a2a2a" stroke-width="0.9"/>
<line x1="73.8" y1="262.2" x2="73.8" y2="260.4" stroke="#333" stroke-width="0.9"/>
<line x1="72.3" y1="260.5" x2="75.3" y2="260.5" stroke="#333" stroke-width="0.9"/>
<rect x="80.05" y="264.05" width="4.7" height="2.85" fill="#fff" stroke="#2a2a2a" stroke-width="0.9"/>
<rect x="85.65" y="265.25" width="4.7" height="1.65" fill="#bcbcbc" stroke="#2a2a2a" stroke-width="0.9"/>
<rect x="93.65" y="263.75" width="4.7" height="3.15" fill="#fff" stroke="#2a2a2a" stroke-width="0.9"/>
<line x1="96" y1="263.3" x2="96" y2="262" stroke="#333" stroke-width="0.9"/>
<line x1="94.5" y1="262.1" x2="97.5" y2="262.1" stroke="#333" stroke-width="0.9"/>
<rect x="99.25" y="265.25" width="4.7" height="1.65" fill="#bcbcbc" stroke="#2a2a2a" stroke-width="0.9"/>
<rect x="107.15" y="261.75" width="4.7" height="5.15" fill="#fff" stroke="#2a2a2a" stroke-width="0.9"/>
<line x1="109.5" y1="261.3" x2="109.5" y2="259.3" stroke="#333" stroke-width="0.9"/>
<line x1="108" y1="259.4" x2="111" y2="259.4" stroke="#333" stroke-width="0.9"/>
<rect x="112.75" y="264.05" width="4.7" height="2.85" fill="#bcbcbc" stroke="#2a2a2a" stroke-width="0.9"/>
<line x1="115.1" y1="263.6" x2="115.1" y2="262" stroke="#333" stroke-width="0.9"/>
<line x1="113.6" y1="262.1" x2="116.6" y2="262.1" stroke="#333" stroke-width="0.9"/>
<text x="31" y="277.5" font-size="7.3" text-anchor="middle" font-weight="normal" fill="#1a1a1a" stroke="#1a1a1a" stroke-width="0.25">0</text>
<text x="46" y="277.5" font-size="7.3" text-anchor="middle" font-weight="normal" fill="#1a1a1a" stroke="#1a1a1a" stroke-width="0.25">0.05</text>
<text x="58.5" y="277.5" font-size="7.3" text-anchor="middle" font-weight="normal" fill="#1a1a1a" stroke="#1a1a1a" stroke-width="0.25">0.1</text>
<text x="72.9" y="277.5" font-size="7.3" text-anchor="middle" font-weight="normal" fill="#1a1a1a" stroke="#1a1a1a" stroke-width="0.25">0.2</text>
<text x="85.9" y="277.5" font-size="7.3" text-anchor="middle" font-weight="normal" fill="#1a1a1a" stroke="#1a1a1a" stroke-width="0.25">0.5</text>
<text x="99.7" y="277.5" font-size="7.3" text-anchor="middle" font-weight="normal" fill="#1a1a1a" stroke="#1a1a1a" stroke-width="0.25">1.0</text>
<text x="113.7" y="277.5" font-size="7.3" text-anchor="middle" font-weight="normal" fill="#1a1a1a" stroke="#1a1a1a" stroke-width="0.25">5.0</text>
<text x="72" y="287.1" font-size="7.3" text-anchor="middle" font-weight="normal" fill="#1a1a1a" stroke="#1a1a1a" stroke-width="0.25">[C] (&#956;M)</text>
<text x="0" y="0" font-size="7" text-anchor="middle" fill="#1a1a1a" stroke="#1a1a1a" stroke-width="0.25" transform="translate(5.7 219.5) rotate(-90)">Apoptotic index (%)</text>
<text x="31.7" y="180.9" font-size="9" text-anchor="start" font-weight="normal" fill="#1a1a1a" stroke="#1a1a1a" stroke-width="0.35">6 h</text>
<line x1="156.2" y1="172.2" x2="156.2" y2="267.3" stroke="#3a3a3a" stroke-width="1.1"/>
<line x1="155.7" y1="266.8" x2="250.4" y2="266.8" stroke="#3a3a3a" stroke-width="1.1"/>
<line x1="154" y1="266.8" x2="156.2" y2="266.8" stroke="#3a3a3a" stroke-width="1"/>
<text x="153.8" y="269.2" font-size="6.8" text-anchor="end" font-weight="normal" fill="#1a1a1a" stroke="#1a1a1a" stroke-width="0.25">0</text>
<line x1="154" y1="251.12" x2="156.2" y2="251.12" stroke="#3a3a3a" stroke-width="1"/>
<text x="153.8" y="253.52" font-size="6.8" text-anchor="end" font-weight="normal" fill="#1a1a1a" stroke="#1a1a1a" stroke-width="0.25">100</text>
<line x1="154" y1="235.43" x2="156.2" y2="235.43" stroke="#3a3a3a" stroke-width="1"/>
<text x="153.8" y="237.83" font-size="6.8" text-anchor="end" font-weight="normal" fill="#1a1a1a" stroke="#1a1a1a" stroke-width="0.25">200</text>
<line x1="154" y1="219.75" x2="156.2" y2="219.75" stroke="#3a3a3a" stroke-width="1"/>
<text x="153.8" y="222.15" font-size="6.8" text-anchor="end" font-weight="normal" fill="#1a1a1a" stroke="#1a1a1a" stroke-width="0.25">300</text>
<line x1="154" y1="204.07" x2="156.2" y2="204.07" stroke="#3a3a3a" stroke-width="1"/>
<text x="153.8" y="206.47" font-size="6.8" text-anchor="end" font-weight="normal" fill="#1a1a1a" stroke="#1a1a1a" stroke-width="0.25">400</text>
<line x1="154" y1="188.38" x2="156.2" y2="188.38" stroke="#3a3a3a" stroke-width="1"/>
<text x="153.8" y="190.78" font-size="6.8" text-anchor="end" font-weight="normal" fill="#1a1a1a" stroke="#1a1a1a" stroke-width="0.25">500</text>
<line x1="154" y1="172.7" x2="156.2" y2="172.7" stroke="#3a3a3a" stroke-width="1"/>
<text x="153.8" y="175.1" font-size="6.8" text-anchor="end" font-weight="normal" fill="#1a1a1a" stroke="#1a1a1a" stroke-width="0.25">600</text>
<rect x="160.85" y="191.35" width="4.7" height="75.45" fill="url(#hatch)" stroke="#2a2a2a" stroke-width="0.9"/>
<line x1="163.2" y1="190.9" x2="163.2" y2="183.1" stroke="#333" stroke-width="0.9"/>
<line x1="161.7" y1="183.2" x2="164.7" y2="183.2" stroke="#333" stroke-width="0.9"/>
<rect x="171.45" y="200.75" width="4.7" height="66.05" fill="#fff" stroke="#2a2a2a" stroke-width="0.9"/>
<line x1="173.8" y1="200.3" x2="173.8" y2="195.5" stroke="#333" stroke-width="0.9"/>
<line x1="172.3" y1="195.6" x2="175.3" y2="195.6" stroke="#333" stroke-width="0.9"/>
<rect x="177.05" y="195.65" width="4.7" height="71.15" fill="#b4b4b4" stroke="#2a2a2a" stroke-width="0.9"/>
<line x1="179.4" y1="195.2" x2="179.4" y2="189.5" stroke="#333" stroke-width="0.9"/>
<line x1="177.9" y1="189.6" x2="180.9" y2="189.6" stroke="#333" stroke-width="0.9"/>
<rect x="184.85" y="200.45" width="4.7" height="66.35" fill="#fff" stroke="#2a2a2a" stroke-width="0.9"/>
<rect x="190.45" y="191.65" width="4.7" height="75.15" fill="#b4b4b4" stroke="#2a2a2a" stroke-width="0.9"/>
<line x1="192.8" y1="191.2" x2="192.8" y2="190.4" stroke="#333" stroke-width="0.9"/>
<line x1="191.3" y1="190.5" x2="194.3" y2="190.5" stroke="#333" stroke-width="0.9"/>
<rect x="197.85" y="206.15" width="4.7" height="60.65" fill="#fff" stroke="#2a2a2a" stroke-width="0.9"/>
<line x1="200.2" y1="205.7" x2="200.2" y2="203" stroke="#333" stroke-width="0.9"/>
<line x1="198.7" y1="203.1" x2="201.7" y2="203.1" stroke="#333" stroke-width="0.9"/>
<rect x="203.45" y="197.45" width="4.7" height="69.35" fill="#b4b4b4" stroke="#2a2a2a" stroke-width="0.9"/>
<line x1="205.8" y1="197" x2="205.8" y2="196.2" stroke="#333" stroke-width="0.9"/>
<line x1="204.3" y1="196.3" x2="207.3" y2="196.3" stroke="#333" stroke-width="0.9"/>
<rect x="210.95" y="227.85" width="4.7" height="38.95" fill="#fff" stroke="#2a2a2a" stroke-width="0.9"/>
<line x1="213.3" y1="227.4" x2="213.3" y2="224.3" stroke="#333" stroke-width="0.9"/>
<line x1="211.8" y1="224.4" x2="214.8" y2="224.4" stroke="#333" stroke-width="0.9"/>
<rect x="216.55" y="201.55" width="4.7" height="65.25" fill="#b4b4b4" stroke="#2a2a2a" stroke-width="0.9"/>
<line x1="218.9" y1="201.1" x2="218.9" y2="200" stroke="#333" stroke-width="0.9"/>
<line x1="217.4" y1="200.1" x2="220.4" y2="200.1" stroke="#333" stroke-width="0.9"/>
<path d="M213.3 215.8L213.3 221.2M215.64 217.15L210.96 219.85M215.64 219.85L210.96 217.15" stroke="#3c3c3c" stroke-width="0.85" fill="none"/>
<rect x="224.45" y="228.95" width="4.7" height="37.85" fill="#fff" stroke="#2a2a2a" stroke-width="0.9"/>
<line x1="226.8" y1="228.5" x2="226.8" y2="225.4" stroke="#333" stroke-width="0.9"/>
<line x1="225.3" y1="225.5" x2="228.3" y2="225.5" stroke="#333" stroke-width="0.9"/>
<rect x="230.05" y="214.05" width="4.7" height="52.75" fill="#b4b4b4" stroke="#2a2a2a" stroke-width="0.9"/>
<line x1="232.4" y1="213.6" x2="232.4" y2="210.9" stroke="#333" stroke-width="0.9"/>
<line x1="230.9" y1="211" x2="233.9" y2="211" stroke="#333" stroke-width="0.9"/>
<path d="M226.8 219.2L226.8 224.6M229.14 220.55L224.46 223.25M229.14 223.25L224.46 220.55" stroke="#3c3c3c" stroke-width="0.85" fill="none"/>
<path d="M232.4 204.7L232.4 210.1M234.74 206.05L230.06 208.75M234.74 208.75L230.06 206.05" stroke="#3c3c3c" stroke-width="0.85" fill="none"/>
<rect x="238.05" y="233.65" width="4.7" height="33.15" fill="#fff" stroke="#2a2a2a" stroke-width="0.9"/>
<line x1="240.4" y1="233.2" x2="240.4" y2="231.3" stroke="#333" stroke-width="0.9"/>
<line x1="238.9" y1="231.4" x2="241.9" y2="231.4" stroke="#333" stroke-width="0.9"/>
<rect x="243.65" y="235.15" width="4.7" height="31.65" fill="#b4b4b4" stroke="#2a2a2a" stroke-width="0.9"/>
<line x1="246" y1="234.7" x2="246" y2="232.4" stroke="#333" stroke-width="0.9"/>
<line x1="244.5" y1="232.5" x2="247.5" y2="232.5" stroke="#333" stroke-width="0.9"/>
<path d="M240.4 224.7L240.4 230.1M242.74 226.05L238.06 228.75M242.74 228.75L238.06 226.05" stroke="#3c3c3c" stroke-width="0.85" fill="none"/>
<path d="M246 224.7L246 230.1M248.34 226.05L243.66 228.75M248.34 228.75L243.66 226.05" stroke="#3c3c3c" stroke-width="0.85" fill="none"/>
<text x="163.3" y="277.5" font-size="7.3" text-anchor="middle" font-weight="normal" fill="#1a1a1a" stroke="#1a1a1a" stroke-width="0.25">0</text>
<text x="178" y="277.5" font-size="7.3" text-anchor="middle" font-weight="normal" fill="#1a1a1a" stroke="#1a1a1a" stroke-width="0.25">0.05</text>
<text x="190.5" y="277.5" font-size="7.3" text-anchor="middle" font-weight="normal" fill="#1a1a1a" stroke="#1a1a1a" stroke-width="0.25">0.1</text>
<text x="204.2" y="277.5" font-size="7.3" text-anchor="middle" font-weight="normal" fill="#1a1a1a" stroke="#1a1a1a" stroke-width="0.25">0.2</text>
<text x="218" y="277.5" font-size="7.3" text-anchor="middle" font-weight="normal" fill="#1a1a1a" stroke="#1a1a1a" stroke-width="0.25">0.5</text>
<text x="231.5" y="277.5" font-size="7.3" text-anchor="middle" font-weight="normal" fill="#1a1a1a" stroke="#1a1a1a" stroke-width="0.25">1.0</text>
<text x="245" y="277.5" font-size="7.3" text-anchor="middle" font-weight="normal" fill="#1a1a1a" stroke="#1a1a1a" stroke-width="0.25">5.0</text>
<text x="198.4" y="287.1" font-size="7.3" text-anchor="middle" font-weight="normal" fill="#1a1a1a" stroke="#1a1a1a" stroke-width="0.25">[C] (&#956;M)</text>
<text x="0" y="0" font-size="7" text-anchor="middle" fill="#1a1a1a" stroke="#1a1a1a" stroke-width="0.25" transform="translate(133.7 219.2) rotate(-90)">No. cells (x1000)</text>
<text x="168.7" y="179.8" font-size="9" text-anchor="start" font-weight="normal" fill="#1a1a1a" stroke="#1a1a1a" stroke-width="0.35">24 h</text>
<line x1="293.4" y1="171.7" x2="293.4" y2="266.9" stroke="#3a3a3a" stroke-width="1.1"/>
<line x1="292.9" y1="266.4" x2="388" y2="266.4" stroke="#3a3a3a" stroke-width="1.1"/>
<line x1="291.2" y1="266.4" x2="293.4" y2="266.4" stroke="#3a3a3a" stroke-width="1"/>
<text x="291" y="268.8" font-size="6.8" text-anchor="end" font-weight="normal" fill="#1a1a1a" stroke="#1a1a1a" stroke-width="0.25">0</text>
<line x1="291.2" y1="235" x2="293.4" y2="235" stroke="#3a3a3a" stroke-width="1"/>
<text x="291" y="237.4" font-size="6.8" text-anchor="end" font-weight="normal" fill="#1a1a1a" stroke="#1a1a1a" stroke-width="0.25">10</text>
<line x1="291.2" y1="203.6" x2="293.4" y2="203.6" stroke="#3a3a3a" stroke-width="1"/>
<text x="291" y="206" font-size="6.8" text-anchor="end" font-weight="normal" fill="#1a1a1a" stroke="#1a1a1a" stroke-width="0.25">20</text>
<line x1="291.2" y1="172.2" x2="293.4" y2="172.2" stroke="#3a3a3a" stroke-width="1"/>
<text x="291" y="174.6" font-size="6.8" text-anchor="end" font-weight="normal" fill="#1a1a1a" stroke="#1a1a1a" stroke-width="0.25">30</text>
<rect x="297.55" y="259.05" width="4.7" height="7.35" fill="url(#hatch)" stroke="#2a2a2a" stroke-width="0.9"/>
<line x1="299.9" y1="258.6" x2="299.9" y2="256.9" stroke="#333" stroke-width="0.9"/>
<line x1="298.4" y1="257" x2="301.4" y2="257" stroke="#333" stroke-width="0.9"/>
<rect x="308.95" y="251.85" width="4.7" height="14.55" fill="#fff" stroke="#2a2a2a" stroke-width="0.9"/>
<line x1="311.3" y1="251.4" x2="311.3" y2="247.8" stroke="#333" stroke-width="0.9"/>
<line x1="309.8" y1="247.9" x2="312.8" y2="247.9" stroke="#333" stroke-width="0.9"/>
<rect x="314.55" y="256.15" width="4.7" height="10.25" fill="#bcbcbc" stroke="#2a2a2a" stroke-width="0.9"/>
<line x1="316.9" y1="255.7" x2="316.9" y2="250.5" stroke="#333" stroke-width="0.9"/>
<line x1="315.4" y1="250.6" x2="318.4" y2="250.6" stroke="#333" stroke-width="0.9"/>
<rect x="322.45" y="253.35" width="4.7" height="13.05" fill="#fff" stroke="#2a2a2a" stroke-width="0.9"/>
<line x1="324.8" y1="252.9" x2="324.8" y2="245.3" stroke="#333" stroke-width="0.9"/>
<line x1="323.3" y1="245.4" x2="326.3" y2="245.4" stroke="#333" stroke-width="0.9"/>
<rect x="328.05" y="255.65" width="4.7" height="10.75" fill="#bcbcbc" stroke="#2a2a2a" stroke-width="0.9"/>
<line x1="330.4" y1="255.2" x2="330.4" y2="250" stroke="#333" stroke-width="0.9"/>
<line x1="328.9" y1="250.1" x2="331.9" y2="250.1" stroke="#333" stroke-width="0.9"/>
<rect x="335.65" y="255.45" width="4.7" height="10.95" fill="#fff" stroke="#2a2a2a" stroke-width="0.9"/>
<line x1="338" y1="255" x2="338" y2="248.2" stroke="#333" stroke-width="0.9"/>
<line x1="336.5" y1="248.3" x2="339.5" y2="248.3" stroke="#333" stroke-width="0.9"/>
<rect x="341.25" y="254.45" width="4.7" height="11.95" fill="#bcbcbc" stroke="#2a2a2a" stroke-width="0.9"/>
<rect x="348.25" y="249.85" width="4.7" height="16.55" fill="#fff" stroke="#2a2a2a" stroke-width="0.9"/>
<line x1="350.6" y1="249.4" x2="350.6" y2="244.7" stroke="#333" stroke-width="0.9"/>
<line x1="349.1" y1="244.8" x2="352.1" y2="244.8" stroke="#333" stroke-width="0.9"/>
<rect x="353.85" y="256.55" width="4.7" height="9.85" fill="#bcbcbc" stroke="#2a2a2a" stroke-width="0.9"/>
<line x1="356.2" y1="256.1" x2="356.2" y2="251.9" stroke="#333" stroke-width="0.9"/>
<line x1="354.7" y1="252" x2="357.7" y2="252" stroke="#333" stroke-width="0.9"/>
<rect x="362.75" y="246.55" width="4.7" height="19.85" fill="#fff" stroke="#2a2a2a" stroke-width="0.9"/>
<line x1="365.1" y1="246.1" x2="365.1" y2="240.5" stroke="#333" stroke-width="0.9"/>
<line x1="363.6" y1="240.6" x2="366.6" y2="240.6" stroke="#333" stroke-width="0.9"/>
<rect x="368.35" y="256.05" width="4.7" height="10.35" fill="#bcbcbc" stroke="#2a2a2a" stroke-width="0.9"/>
<line x1="370.7" y1="255.6" x2="370.7" y2="249.4" stroke="#333" stroke-width="0.9"/>
<line x1="369.2" y1="249.5" x2="372.2" y2="249.5" stroke="#333" stroke-width="0.9"/>
<rect x="375.55" y="254.45" width="4.7" height="11.95" fill="#fff" stroke="#2a2a2a" stroke-width="0.9"/>
<line x1="377.9" y1="254" x2="377.9" y2="248.2" stroke="#333" stroke-width="0.9"/>
<line x1="376.4" y1="248.3" x2="379.4" y2="248.3" stroke="#333" stroke-width="0.9"/>
<rect x="381.15" y="257.55" width="4.7" height="8.85" fill="#bcbcbc" stroke="#2a2a2a" stroke-width="0.9"/>
<line x1="383.5" y1="257.1" x2="383.5" y2="254" stroke="#333" stroke-width="0.9"/>
<line x1="382" y1="254.1" x2="385" y2="254.1" stroke="#333" stroke-width="0.9"/>
<text x="299.8" y="277.5" font-size="7.3" text-anchor="middle" font-weight="normal" fill="#1a1a1a" stroke="#1a1a1a" stroke-width="0.25">0</text>
<text x="314.6" y="277.5" font-size="7.3" text-anchor="middle" font-weight="normal" fill="#1a1a1a" stroke="#1a1a1a" stroke-width="0.25">0.05</text>
<text x="327.5" y="277.5" font-size="7.3" text-anchor="middle" font-weight="normal" fill="#1a1a1a" stroke="#1a1a1a" stroke-width="0.25">0.1</text>
<text x="341.6" y="277.5" font-size="7.3" text-anchor="middle" font-weight="normal" fill="#1a1a1a" stroke="#1a1a1a" stroke-width="0.25">0.2</text>
<text x="354.9" y="277.5" font-size="7.3" text-anchor="middle" font-weight="normal" fill="#1a1a1a" stroke="#1a1a1a" stroke-width="0.25">0.5</text>
<text x="368.3" y="277.5" font-size="7.3" text-anchor="middle" font-weight="normal" fill="#1a1a1a" stroke="#1a1a1a" stroke-width="0.25">1.0</text>
<text x="382.6" y="277.5" font-size="7.3" text-anchor="middle" font-weight="normal" fill="#1a1a1a" stroke="#1a1a1a" stroke-width="0.25">5.0</text>
<text x="346.3" y="287.1" font-size="7.3" text-anchor="middle" font-weight="normal" fill="#1a1a1a" stroke="#1a1a1a" stroke-width="0.25">[C] (&#956;M)</text>
<text x="0" y="0" font-size="7" text-anchor="middle" fill="#1a1a1a" stroke="#1a1a1a" stroke-width="0.25" transform="translate(274.9 218.4) rotate(-90)">Apoptotic index (%)</text>
<text x="300.7" y="173.4" font-size="9" text-anchor="start" font-weight="normal" fill="#1a1a1a" stroke="#1a1a1a" stroke-width="0.35">6 h</text>
<line x1="424.5" y1="171.7" x2="424.5" y2="266.5" stroke="#3a3a3a" stroke-width="1.1"/>
<line x1="424" y1="266" x2="518.8" y2="266" stroke="#3a3a3a" stroke-width="1.1"/>
<line x1="422.3" y1="266" x2="424.5" y2="266" stroke="#3a3a3a" stroke-width="1"/>
<text x="422.1" y="268.4" font-size="6.8" text-anchor="end" font-weight="normal" fill="#1a1a1a" stroke="#1a1a1a" stroke-width="0.25">0</text>
<line x1="422.3" y1="250.37" x2="424.5" y2="250.37" stroke="#3a3a3a" stroke-width="1"/>
<text x="422.1" y="252.77" font-size="6.8" text-anchor="end" font-weight="normal" fill="#1a1a1a" stroke="#1a1a1a" stroke-width="0.25">100</text>
<line x1="422.3" y1="234.73" x2="424.5" y2="234.73" stroke="#3a3a3a" stroke-width="1"/>
<text x="422.1" y="237.13" font-size="6.8" text-anchor="end" font-weight="normal" fill="#1a1a1a" stroke="#1a1a1a" stroke-width="0.25">200</text>
<line x1="422.3" y1="219.1" x2="424.5" y2="219.1" stroke="#3a3a3a" stroke-width="1"/>
<text x="422.1" y="221.5" font-size="6.8" text-anchor="end" font-weight="normal" fill="#1a1a1a" stroke="#1a1a1a" stroke-width="0.25">300</text>
<line x1="422.3" y1="203.47" x2="424.5" y2="203.47" stroke="#3a3a3a" stroke-width="1"/>
<text x="422.1" y="205.87" font-size="6.8" text-anchor="end" font-weight="normal" fill="#1a1a1a" stroke="#1a1a1a" stroke-width="0.25">400</text>
<line x1="422.3" y1="187.83" x2="424.5" y2="187.83" stroke="#3a3a3a" stroke-width="1"/>
<text x="422.1" y="190.23" font-size="6.8" text-anchor="end" font-weight="normal" fill="#1a1a1a" stroke="#1a1a1a" stroke-width="0.25">500</text>
<line x1="422.3" y1="172.2" x2="424.5" y2="172.2" stroke="#3a3a3a" stroke-width="1"/>
<text x="422.1" y="174.6" font-size="6.8" text-anchor="end" font-weight="normal" fill="#1a1a1a" stroke="#1a1a1a" stroke-width="0.25">600</text>
<rect x="429.95" y="192.65" width="4.7" height="73.35" fill="url(#hatch)" stroke="#2a2a2a" stroke-width="0.9"/>
<line x1="432.3" y1="192.2" x2="432.3" y2="186.6" stroke="#333" stroke-width="0.9"/>
<line x1="430.8" y1="186.7" x2="433.8" y2="186.7" stroke="#333" stroke-width="0.9"/>
<rect x="440.35" y="197.85" width="4.7" height="68.15" fill="#fff" stroke="#2a2a2a" stroke-width="0.9"/>
<line x1="442.7" y1="197.4" x2="442.7" y2="192.2" stroke="#333" stroke-width="0.9"/>
<line x1="441.2" y1="192.3" x2="444.2" y2="192.3" stroke="#333" stroke-width="0.9"/>
<rect x="445.95" y="192.65" width="4.7" height="73.35" fill="#b4b4b4" stroke="#2a2a2a" stroke-width="0.9"/>
<line x1="448.3" y1="192.2" x2="448.3" y2="179.7" stroke="#333" stroke-width="0.9"/>
<line x1="446.8" y1="179.8" x2="449.8" y2="179.8" stroke="#333" stroke-width="0.9"/>
<rect x="452.75" y="204.25" width="4.7" height="61.75" fill="#fff" stroke="#2a2a2a" stroke-width="0.9"/>
<rect x="458.35" y="189.25" width="4.7" height="76.75" fill="#b4b4b4" stroke="#2a2a2a" stroke-width="0.9"/>
<line x1="460.7" y1="188.8" x2="460.7" y2="186.6" stroke="#333" stroke-width="0.9"/>
<line x1="459.2" y1="186.7" x2="462.2" y2="186.7" stroke="#333" stroke-width="0.9"/>
<path d="M455.1 195.9L455.1 201.3M457.44 197.25L452.76 199.95M457.44 199.95L452.76 197.25" stroke="#3c3c3c" stroke-width="0.85" fill="none"/>
<rect x="466.45" y="233.25" width="4.7" height="32.75" fill="#fff" stroke="#2a2a2a" stroke-width="0.9"/>
<line x1="468.8" y1="232.8" x2="468.8" y2="225.3" stroke="#333" stroke-width="0.9"/>
<line x1="467.3" y1="225.4" x2="470.3" y2="225.4" stroke="#333" stroke-width="0.9"/>
<rect x="472.05" y="193.25" width="4.7" height="72.75" fill="#b4b4b4" stroke="#2a2a2a" stroke-width="0.9"/>
<line x1="474.4" y1="192.8" x2="474.4" y2="190.5" stroke="#333" stroke-width="0.9"/>
<line x1="472.9" y1="190.6" x2="475.9" y2="190.6" stroke="#333" stroke-width="0.9"/>
<path d="M468.8 217.6L468.8 223M471.14 218.95L466.46 221.65M471.14 221.65L466.46 218.95" stroke="#3c3c3c" stroke-width="0.85" fill="none"/>
<rect x="480.25" y="237.35" width="4.7" height="28.65" fill="#fff" stroke="#2a2a2a" stroke-width="0.9"/>
<line x1="482.6" y1="236.9" x2="482.6" y2="230.8" stroke="#333" stroke-width="0.9"/>
<line x1="481.1" y1="230.9" x2="484.1" y2="230.9" stroke="#333" stroke-width="0.9"/>
<rect x="485.85" y="204.25" width="4.7" height="61.75" fill="#b4b4b4" stroke="#2a2a2a" stroke-width="0.9"/>
<line x1="488.2" y1="203.8" x2="488.2" y2="200.2" stroke="#333" stroke-width="0.9"/>
<line x1="486.7" y1="200.3" x2="489.7" y2="200.3" stroke="#333" stroke-width="0.9"/>
<path d="M482.6 223.2L482.6 228.6M484.94 224.55L480.26 227.25M484.94 227.25L480.26 224.55" stroke="#3c3c3c" stroke-width="0.85" fill="none"/>
<rect x="493.45" y="230.45" width="4.7" height="35.55" fill="#fff" stroke="#2a2a2a" stroke-width="0.9"/>
<rect x="499.05" y="211.15" width="4.7" height="54.85" fill="#b4b4b4" stroke="#2a2a2a" stroke-width="0.9"/>
<line x1="501.4" y1="210.7" x2="501.4" y2="205.2" stroke="#333" stroke-width="0.9"/>
<line x1="499.9" y1="205.3" x2="502.9" y2="205.3" stroke="#333" stroke-width="0.9"/>
<path d="M495.8 221.8L495.8 227.2M498.14 223.15L493.46 225.85M498.14 225.85L493.46 223.15" stroke="#3c3c3c" stroke-width="0.85" fill="none"/>
<path d="M501.4 198.3L501.4 203.7M503.74 199.65L499.06 202.35M503.74 202.35L499.06 199.65" stroke="#3c3c3c" stroke-width="0.85" fill="none"/>
<rect x="507.85" y="247.85" width="4.7" height="18.15" fill="#fff" stroke="#2a2a2a" stroke-width="0.9"/>
<rect x="513.45" y="223.55" width="4.7" height="42.45" fill="#b4b4b4" stroke="#2a2a2a" stroke-width="0.9"/>
<path d="M510.2 238.3L510.2 243.7M512.54 239.65L507.86 242.35M512.54 242.35L507.86 239.65" stroke="#3c3c3c" stroke-width="0.85" fill="none"/>
<path d="M515.8 214.9L515.8 220.3M518.14 216.25L513.46 218.95M518.14 218.95L513.46 216.25" stroke="#3c3c3c" stroke-width="0.85" fill="none"/>
<text x="432.2" y="277.8" font-size="7.3" text-anchor="middle" font-weight="normal" fill="#1a1a1a" stroke="#1a1a1a" stroke-width="0.25">0</text>
<text x="446.7" y="277.8" font-size="7.3" text-anchor="middle" font-weight="normal" fill="#1a1a1a" stroke="#1a1a1a" stroke-width="0.25">0.05</text>
<text x="458.9" y="277.8" font-size="7.3" text-anchor="middle" font-weight="normal" fill="#1a1a1a" stroke="#1a1a1a" stroke-width="0.25">0.1</text>
<text x="473.2" y="277.8" font-size="7.3" text-anchor="middle" font-weight="normal" fill="#1a1a1a" stroke="#1a1a1a" stroke-width="0.25">0.2</text>
<text x="486.4" y="277.8" font-size="7.3" text-anchor="middle" font-weight="normal" fill="#1a1a1a" stroke="#1a1a1a" stroke-width="0.25">0.5</text>
<text x="500" y="277.8" font-size="7.3" text-anchor="middle" font-weight="normal" fill="#1a1a1a" stroke="#1a1a1a" stroke-width="0.25">1.0</text>
<text x="513.2" y="277.8" font-size="7.3" text-anchor="middle" font-weight="normal" fill="#1a1a1a" stroke="#1a1a1a" stroke-width="0.25">5.0</text>
<text x="472.9" y="287.1" font-size="7.3" text-anchor="middle" font-weight="normal" fill="#1a1a1a" stroke="#1a1a1a" stroke-width="0.25">[C] (&#956;M)</text>
<text x="0" y="0" font-size="7" text-anchor="middle" fill="#1a1a1a" stroke="#1a1a1a" stroke-width="0.25" transform="translate(402.5 217.7) rotate(-90)">No. cells (x1000)</text>
<text x="437.4" y="173.2" font-size="9" text-anchor="start" font-weight="normal" fill="#1a1a1a" stroke="#1a1a1a" stroke-width="0.35">48 h</text>
<text x="1.6" y="13.6" font-size="17.4" text-anchor="start" font-weight="bold" fill="#000" stroke="#000" stroke-width="0.1">A</text>
<text x="269" y="13.5" font-size="17.4" text-anchor="start" font-weight="bold" fill="#000" stroke="#000" stroke-width="0.1">B</text>
<text x="0.9" y="164.2" font-size="17.4" text-anchor="start" font-weight="bold" fill="#000" stroke="#000" stroke-width="0.1">C</text>
<text x="269" y="163.8" font-size="17.4" text-anchor="start" font-weight="bold" fill="#000" stroke="#000" stroke-width="0.1">D</text>
<text x="128.4" y="7.7" font-size="9.1" text-anchor="start" font-weight="normal" fill="#000" stroke="#000" stroke-width="0.25">KG1</text>
<text x="394" y="7.5" font-size="9.1" text-anchor="start" font-weight="normal" fill="#000" stroke="#000" stroke-width="0.25">HL-60</text>
<text x="126.9" y="158" font-size="9.2" text-anchor="start" font-weight="normal" fill="#000" stroke="#000" stroke-width="0.25">U937</text>
<text x="391.4" y="158.1" font-size="9.2" text-anchor="start" font-weight="normal" fill="#000" stroke="#000" stroke-width="0.25">Kasumi</text>
<rect x="219.9" y="13.9" width="4.4" height="4.2" fill="url(#hatch2)" stroke="#2a2a2a" stroke-width="1"/>
<rect x="219.9" y="21.8" width="4.4" height="4.2" fill="#fff" stroke="#2a2a2a" stroke-width="1"/>
<rect x="219.9" y="29" width="4.4" height="4.2" fill="#b4b4b4" stroke="#2a2a2a" stroke-width="1"/>
<text x="227" y="18.4" font-size="7" text-anchor="start" font-weight="normal" fill="#1a1a1a" stroke="#1a1a1a" stroke-width="0.25">vehicle</text>
<text x="227" y="25.6" font-size="7" text-anchor="start" font-weight="normal" fill="#1a1a1a" stroke="#1a1a1a" stroke-width="0.25">ST1926</text>
<text x="227" y="32.8" font-size="7" text-anchor="start" font-weight="normal" fill="#1a1a1a" stroke="#1a1a1a" stroke-width="0.25">CD437</text>
</svg>
</body></html>
